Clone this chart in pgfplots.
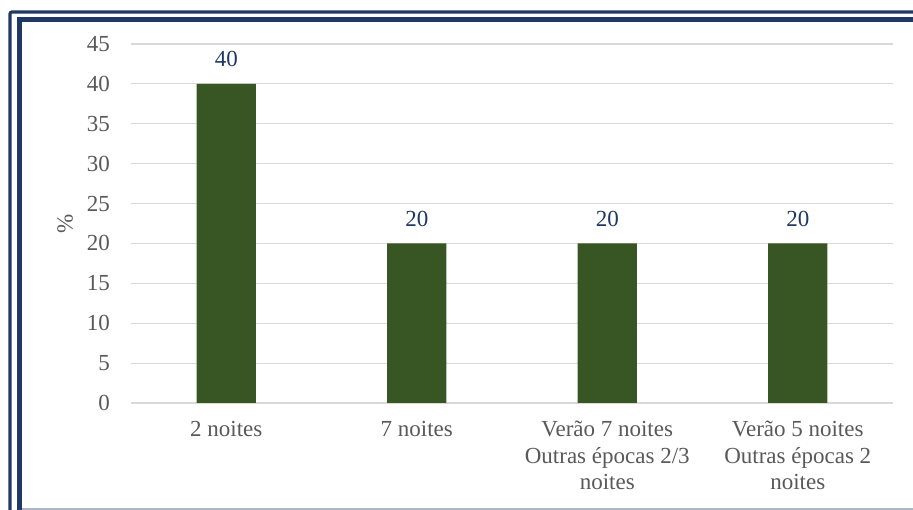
\documentclass[border=0pt]{standalone}
\usepackage{fontspec}
\setmainfont{Liberation Serif}
\usepackage{pgfplots}
\pgfplotsset{compat=1.18}
\definecolor{bargreen}{RGB}{55,86,35}
\definecolor{navy}{RGB}{31,56,100}
\definecolor{tickgray}{RGB}{89,89,89}
\definecolor{gridgray}{RGB}{217,217,217}
\definecolor{edgegray}{RGB}{172,182,200}
\newcommand{\lab}{\fontsize{23}{26.5}\selectfont}
\begin{document}
\begin{tikzpicture}[x=1pt,y=1pt]
\path[use as bounding box] (0,0) rectangle (913,510);
\fill[white] (0,0) rectangle (913,510);
% double frame (left and top only, the rest is cropped)
\draw[navy, line width=3.2pt, rounded corners=2pt] (10,0) -- (10,498) -- (913,498);
\draw[navy, line width=5pt] (19.2,0) -- (19.2,490.5) -- (913,490.5);
\draw[edgegray, line width=1.2pt] (21.7,1) -- (913,1);
\begin{axis}[
  at={(131pt,107pt)}, anchor=south west,
  scale only axis, width=762pt, height=359pt,
  xmin=-0.5, xmax=3.5, ymin=0, ymax=45,
  axis line style={draw=none},
  major tick length=0pt,
  ytick={0,5,...,45},
  xtick={0,1,2,3},
  xticklabels={2 noites, 7 noites,
    {Verão 7 noites\\Outras épocas 2/3\\noites},
    {Verão 5 noites\\Outras épocas 2\\noites}},
  ymajorgrids, grid style={gridgray, line width=1.2pt},
  /pgf/number format/assume math mode=true,
  yticklabel style={font=\lab, text=tickgray, anchor=east, inner sep=0pt, xshift=-21pt},
  xticklabel style={font=\lab, text=tickgray, anchor=north, align=center, inner sep=0pt, yshift=-18pt},
  ylabel={\%},
  every axis y label/.style={at={(axis description cs:-0.0866,0.5)}, rotate=90,
    anchor=center, inner sep=0pt, font=\lab, text=tickgray},
  ybar, bar width=59.3pt, bar shift=0pt,
  nodes near coords,
  every node near coord/.append style={font=\lab, text=navy, anchor=base,
    inner sep=0pt, yshift=17pt},
]
\addplot[fill=bargreen, draw=none] coordinates {(0,40) (1,20) (2,20) (3,20)};
\end{axis}
\end{tikzpicture}
\end{document}
